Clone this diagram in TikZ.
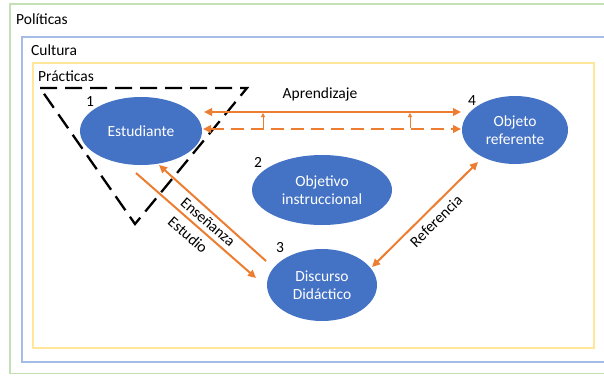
\documentclass[tikz,border=0pt]{standalone}
\usepackage{fontspec}
\setmainfont{Carlito}
\usetikzlibrary{arrows.meta,shapes.geometric}
\definecolor{cblue}{HTML}{4472C4}
\definecolor{corange}{HTML}{ED7D31}
\definecolor{cgreen}{HTML}{C5E0B4}
\definecolor{clblue}{HTML}{A4BCE6}
\definecolor{cyellow}{HTML}{FFE699}
\begin{document}
\begin{tikzpicture}[x=1pt,y=-1pt,
  every node/.style={font=\fontsize{15.5}{18}\selectfont, inner sep=0pt},
  bubble/.style={ellipse, fill=cblue, text=white, align=center},
  num/.style={text=black},
  lbl/.style={text=black},
  oarrow/.style={draw=corange, line width=2pt, -{Triangle[length=8pt,width=7.5pt]}},
  odarrow/.style={draw=corange, line width=2pt, {Triangle[length=8pt,width=7.5pt]}-{Triangle[length=8pt,width=7.5pt]}},
  thinarrow/.style={draw=corange, line width=0.8pt, -{Triangle[length=4pt,width=4pt]}},
  tri/.style={draw=black, line width=2.3pt, dash pattern=on 17pt off 8pt}
]
\useasboundingbox (0,0) rectangle (604,375);
\fill[white] (0,0) rectangle (604,375);
% frames
\draw[cgreen, line width=1.6pt] (610,4) -- (10,4) -- (10,373.5) -- (610,373.5);
\draw[clblue, line width=1.6pt] (610,37) -- (22,37) -- (22,362) -- (610,362);
\draw[cyellow, line width=1.8pt] (33,63) rectangle (594,348);
\node[lbl, anchor=west] (tpol) at (16,19) {Políticas};
\node[lbl, anchor=west] (tcul) at (31,50) {Cultura};
\node[lbl, anchor=west] (tpra) at (38,76) {Prácticas};
% dashed triangle
\coordinate (v1) at (40,88);
\coordinate (v2) at (247,88);
\coordinate (v3) at (135,224);
\draw[tri] (v1) -- (v2) -- (v3) -- cycle;
% ellipses
\node[bubble, minimum width=122pt, minimum height=68pt] (est) at (141,131) {Estudiante};
\node[bubble, minimum width=140pt, minimum height=70pt] (obj) at (322,190) {Objetivo\\instruccional};
\node[bubble, minimum width=106pt, minimum height=68pt] (ref) at (515,130) {Objeto\\referente};
\node[bubble, minimum width=110pt, minimum height=72pt] (dis) at (322,285) {Discurso\\Didáctico};
% numbers
\node[num] (n1) at (90,102) {1};
\node[num] (n2) at (258,162) {2};
\node[num] (n3) at (280,248) {3};
\node[num] (n4) at (472,101) {4};
% connectors
\coordinate (a1) at (204,112);
\coordinate (b1) at (461,112);
\coordinate (a2) at (203,129);
\coordinate (b2) at (461,129);
\draw[odarrow] (a1) -- (b1);
\draw[odarrow, dash pattern=on 13pt off 7pt] (a2) -- (b2);
\coordinate (s1) at (263,128);
\coordinate (t1) at (263,113);
\coordinate (s2) at (410,128);
\coordinate (t2) at (410,113);
\draw[thinarrow] (s1) -- (t1);
\draw[thinarrow] (s2) -- (t2);
\node[lbl] (lapr) at (320,94) {Aprendizaje};
\coordinate (e1) at (136,173);
\coordinate (e2) at (256,278);
\draw[oarrow] (e1) -- (e2);
\coordinate (f1) at (266,261);
\coordinate (f2) at (159,165);
\draw[oarrow] (f1) -- (f2);
\coordinate (r1) at (372,267);
\coordinate (r2) at (478,162);
\draw[odarrow] (r1) -- (r2);
\node[lbl, rotate=-41] (lens) at (208,222) {Enseñanza};
\node[lbl, rotate=-41] (lest) at (188,235) {Estudio};
\node[lbl, rotate=44.5] (lref) at (436,221) {Referencia};
\end{tikzpicture}
\end{document}
